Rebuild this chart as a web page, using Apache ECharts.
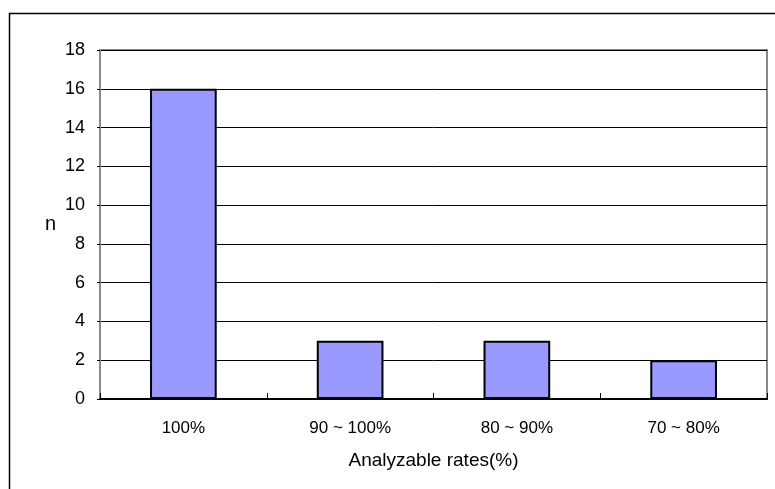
<!DOCTYPE html>
<html><head><meta charset="utf-8">
<script src="https://cdn.jsdelivr.net/npm/echarts@6/dist/echarts.min.js"></script>
<style>html,body{margin:0;padding:0;background:#fff}#c{width:775px;height:489px}</style>
</head><body><div id="c"></div>
<script>
const categories = ['100%', '90 ~ 100%', '80 ~ 90%', '70 ~ 80%'];
const counts = [16, 3, 3, 2];
const yTicks = { min: 0, max: 18, interval: 2 };

const chart = echarts.init(document.getElementById('c'), null, { renderer: 'canvas' });
const font = 'Liberation Sans, Arial, sans-serif';
chart.setOption({
  animation: false,
  backgroundColor: '#fff',
  graphic: [{
    type: 'rect', shape: { x: 9.5, y: 13.5, width: 800, height: 500 },
    style: { fill: 'none', stroke: '#000', lineWidth: 1.5 }, z: 0
  }],
  grid: { left: 100, right: 8, top: 50, bottom: 90, show: true, borderColor: '#888', borderWidth: 2, backgroundColor: 'transparent' },
  xAxis: {
    type: 'category', data: categories,
    name: 'Analyzable rates(%)', nameLocation: 'middle', nameGap: 52,
    nameTextStyle: { color: '#000', fontSize: 19, fontFamily: font },
    axisLine: { lineStyle: { color: '#000', width: 2 } },
    axisTick: { show: true, inside: true, length: 6, lineStyle: { color: '#000' } },
    axisLabel: { color: '#000', fontSize: 17, fontFamily: font, margin: 21 },
    splitLine: { show: false }
  },
  yAxis: {
    type: 'value', min: yTicks.min, max: yTicks.max, interval: yTicks.interval,
    name: 'n', nameLocation: 'middle', nameGap: 44, nameRotate: 0,
    nameTextStyle: { color: '#000', fontSize: 20, fontFamily: font },
    axisLine: { show: true, lineStyle: { color: '#888', width: 2 } },
    axisTick: { show: true, length: 3, lineStyle: { color: '#000' } },
    axisLabel: { color: '#000', fontSize: 18, fontFamily: font, margin: 15 },
    splitLine: { show: true, lineStyle: { color: '#000', width: 1 } }
  },
  series: [{
    type: 'bar', data: counts, barWidth: '40%',
    itemStyle: { color: '#9999FF', borderColor: '#000', borderWidth: 2 }
  }]
});
</script></body></html>
